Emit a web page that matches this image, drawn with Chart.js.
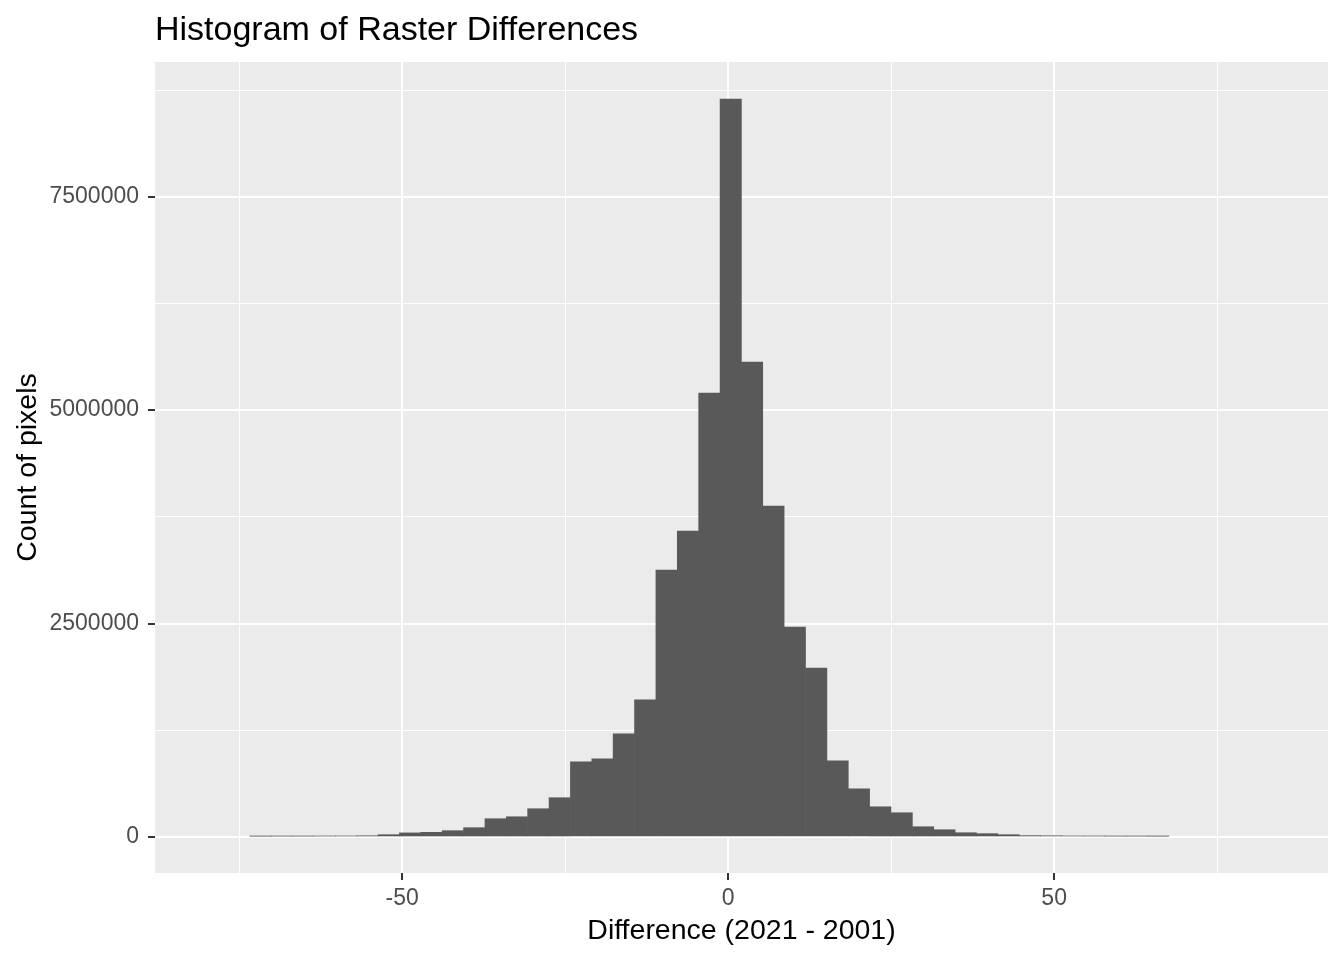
<!DOCTYPE html>
<html>
<head>
<meta charset="utf-8">
<script src="https://cdn.jsdelivr.net/npm/chart.js@4/dist/chart.umd.min.js"></script>
<style>
  html, body { margin: 0; padding: 0; background: #ffffff; }
  #wrap { width: 1344px; height: 960px; }
</style>
</head>
<body>
<div id="wrap"><canvas id="c" width="1344" height="960"></canvas></div>
<script>
// ---- data ----
const binCenters = [
  -71.72, -68.44, -65.17, -61.89, -58.61, -55.33, -52.06, -48.78,
  -45.50, -42.22, -38.94, -35.66, -32.39, -29.11, -25.83, -22.55, -19.27, -16.00,
  -12.72, -9.44, -6.16, -2.88, 0.40, 3.67, 6.95, 10.23, 13.51, 16.79,
  20.06, 23.34, 26.62, 29.90, 33.18, 36.45, 39.73, 43.01, 46.29, 49.57,
  52.85, 56.12, 59.40, 62.68, 65.96
];
const pixelCounts = [
  9000, 10000, 10000, 11000, 12000, 14000, 27000, 48000,
  55000, 74000, 109000, 214000, 237000, 331000, 460000, 881000, 916000, 1208000,
  1606000, 3128000, 3584000, 5201000, 8645000, 5564000, 3877000, 2460000, 1980000, 892000,
  565000, 354000, 284000, 120000, 85000, 50000, 39000, 27000, 16000, 14000,
  12000, 11000, 10000, 10000, 9000
];
const xMajorTicks = [-50, 0, 50];
const xTickLabels = ["-50", "0", "50"];
const xMinorTicks = [-75, -25, 25, 75];
const yMajorTicks = [0, 2500000, 5000000, 7500000];
const yTickLabels = ["0", "2500000", "5000000", "7500000"];
const yMinorTicks = [1250000, 3750000, 6250000, 8750000];

const FONT = "'Liberation Sans', Arial, Helvetica, sans-serif";

const points = binCenters.map((x, i) => ({ x: x, y: pixelCounts[i] }));

const panelBg = {
  id: 'panelBg',
  beforeDraw(chart) {
    const { ctx, chartArea } = chart;
    ctx.save();
    ctx.fillStyle = '#EBEBEB';
    ctx.fillRect(chartArea.left, chartArea.top, chartArea.right - chartArea.left, chartArea.bottom - chartArea.top);
    ctx.restore();
  }
};

function buildTicks(major, minor) {
  return function (scale) {
    scale.ticks = major.concat(minor).sort((a, b) => a - b).map(v => ({ value: v }));
  };
}
function isMajor(list, ctx) {
  return ctx.tick && list.indexOf(ctx.tick.value) >= 0;
}

new Chart(document.getElementById('c'), {
  type: 'bar',
  data: {
    datasets: [{
      data: points,
      backgroundColor: '#595959',
      borderWidth: 0,
      barPercentage: 1.0,
      categoryPercentage: 1.0
    }]
  },
  plugins: [panelBg],
  options: {
    responsive: false,
    animation: false,
    layout: { padding: { left: 0, right: 16, top: 0, bottom: 0 } },
    plugins: {
      legend: { display: false },
      tooltip: { enabled: false },
      title: {
        display: true,
        text: 'Histogram of Raster Differences',
        align: 'start',
        fullSize: false,
        color: '#000000',
        font: { family: FONT, size: 34, weight: 'normal', lineHeight: 1.2 },
        padding: { top: 10.5, bottom: 10.7 }
      }
    },
    scales: {
      x: {
        type: 'linear',
        min: -87.9,
        max: 92.0,
        offset: false,
        border: { display: false },
        grid: {
          offset: false,
          color: '#FFFFFF',
          lineWidth: ctx => isMajor(xMajorTicks, ctx) ? 2 : 1,
          drawTicks: true,
          tickLength: 7,
          tickWidth: 2,
          tickColor: ctx => isMajor(xMajorTicks, ctx) ? '#333333' : 'rgba(0,0,0,0)'
        },
        ticks: {
          autoSkip: false,
          maxRotation: 0,
          minRotation: 0,
          padding: 5,
          color: '#4D4D4D',
          font: { family: FONT, size: 23 },
          callback: v => { const i = xMajorTicks.indexOf(v); return i >= 0 ? xTickLabels[i] : ''; }
        },
        title: {
          display: true,
          text: 'Difference (2021 - 2001)',
          color: '#000000',
          font: { family: FONT, size: 28.5, lineHeight: 1.2 },
          padding: { top: 0, bottom: 12 }
        },
        afterBuildTicks: buildTicks(xMajorTicks, xMinorTicks),
        afterFit: s => { s.height = 87; }
      },
      y: {
        type: 'linear',
        min: -421700,
        max: 9078000,
        border: { display: false },
        grid: {
          color: '#FFFFFF',
          lineWidth: ctx => isMajor(yMajorTicks, ctx) ? 2 : 1,
          drawTicks: true,
          tickLength: 7,
          tickWidth: 2,
          tickColor: ctx => isMajor(yMajorTicks, ctx) ? '#333333' : 'rgba(0,0,0,0)'
        },
        ticks: {
          autoSkip: false,
          padding: 9,
          color: '#4D4D4D',
          font: { family: FONT, size: 23 },
          callback: v => { const i = yMajorTicks.indexOf(v); return i >= 0 ? yTickLabels[i] : ''; }
        },
        title: {
          display: true,
          text: 'Count of pixels',
          color: '#000000',
          font: { family: FONT, size: 28.5, lineHeight: 1.2 },
          padding: { top: 11, bottom: 0 }
        },
        afterBuildTicks: buildTicks(yMajorTicks, yMinorTicks),
        afterFit: s => { s.width = 155; }
      }
    }
  }
});
</script>
</body>
</html>
